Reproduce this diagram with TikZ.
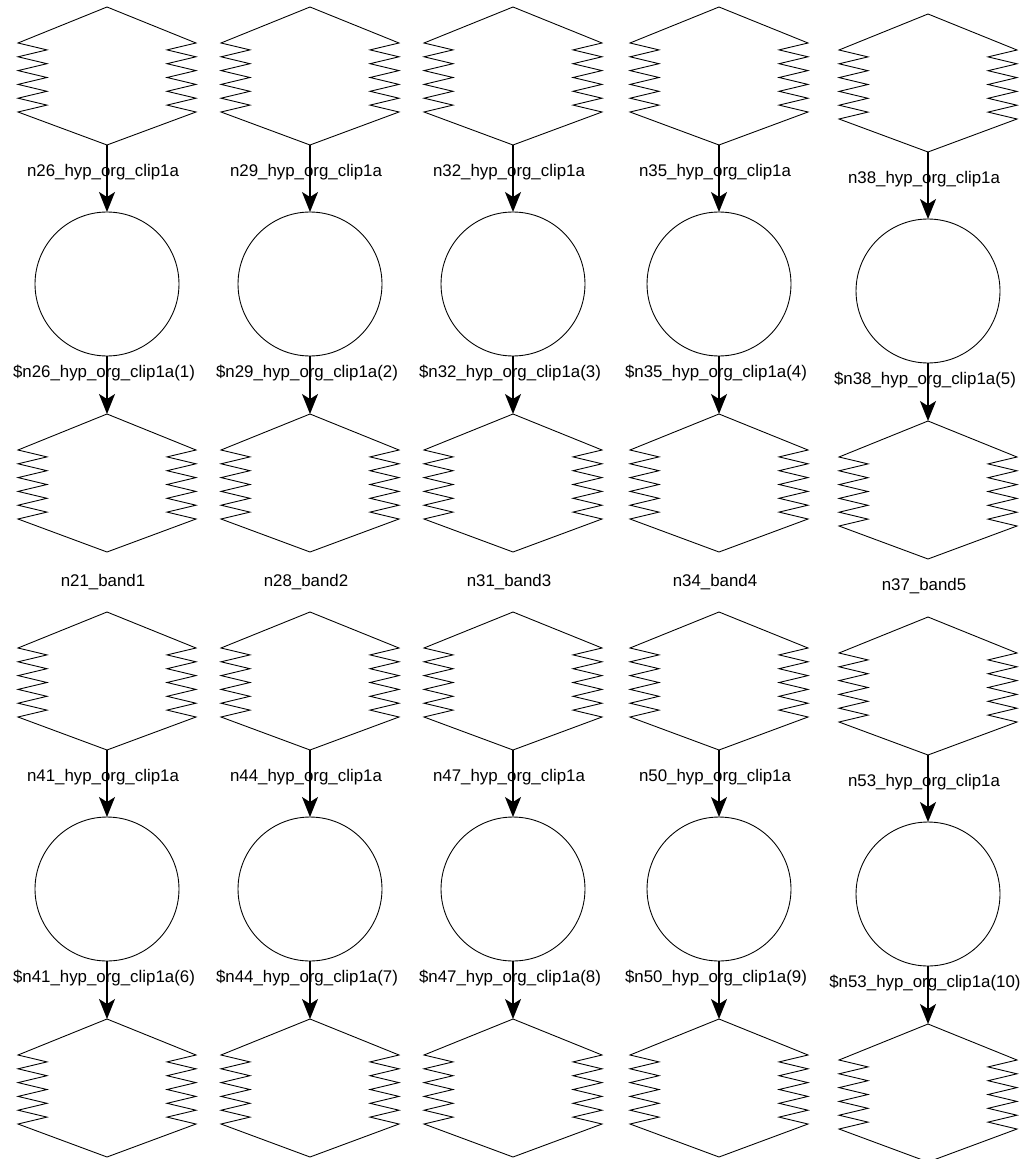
\documentclass[tikz,border=0pt]{standalone}
\usepackage{fontspec}
\setmainfont{Liberation Sans}
\usepackage{tikz}
\usetikzlibrary{arrows.meta}

\tikzset{
  hexspace/.style={rectangle,minimum width=3.56cm,minimum height=2.76cm,inner sep=0pt,outer sep=0pt},
  hexline/.style={line width=0.5pt},
  roundbox/.style={circle,draw,line width=0.5pt,minimum size=2.88cm,inner sep=0pt,outer sep=0pt},
  flow/.style={line width=0.9pt,-{Stealth[length=0.4cm,width=0.32cm,inset=0.1cm]}},
  lbl/.style={font=\fontsize{9.6}{11}\selectfont,inner sep=1pt}
}

% outline of the zigzag hexagon, in pixel units round its centre
\newcommand{\hexpath}{(0,-69) -- (89,-33)
  \foreach \k in {0,...,4} { -- (60,{-26.1+13.8*\k}) -- (89,{-19.2+13.8*\k}) }
  -- (0,69) -- (-89,36)
  \foreach \k in {0,...,4} { -- (-60,{29.1-13.8*\k}) -- (-89,{22.2-13.8*\k}) }
  -- cycle}

% one column: hexagon -> circle -> hexagon
\newcommand{\bandchain}[5]{%
  \node[hexspace] (top#1) at (#2,#3) {};
  \draw[hexline,shift={(top#1.center)}] \hexpath;
  \node[roundbox] (mid#1) at (#2,#3+208) {};
  \node[hexspace] (bot#1) at (#2,#3+407) {};
  \draw[hexline,shift={(bot#1.center)}] \hexpath;
  \draw[flow] (top#1) -- (mid#1) node[lbl,pos=0.4,xshift=-0.08cm] {#4};
  \draw[flow] (mid#1) -- (bot#1) node[lbl,pos=0.29,xshift=-0.06cm] {#5};
}

\begin{document}
\begin{tikzpicture}[x=0.02cm,y=-0.02cm]
  \useasboundingbox (0,0) rectangle (1031,1159);

  % first row
  \bandchain{1}{107}{76}{n26\_hyp\_org\_clip1a}{\$n26\_hyp\_org\_clip1a(1)}
  \bandchain{2}{310}{76}{n29\_hyp\_org\_clip1a}{\$n29\_hyp\_org\_clip1a(2)}
  \bandchain{3}{513}{76}{n32\_hyp\_org\_clip1a}{\$n32\_hyp\_org\_clip1a(3)}
  \bandchain{4}{719}{76}{n35\_hyp\_org\_clip1a}{\$n35\_hyp\_org\_clip1a(4)}
  \bandchain{5}{928}{83}{n38\_hyp\_org\_clip1a}{\$n38\_hyp\_org\_clip1a(5)}

  \node[lbl] (band1) at (103,582) {n21\_band1};
  \node[lbl] (band2) at (306,582) {n28\_band2};
  \node[lbl] (band3) at (509,582) {n31\_band3};
  \node[lbl] (band4) at (715,582) {n34\_band4};
  \node[lbl] (band5) at (924,586) {n37\_band5};

  % second row
  \bandchain{6}{107}{681}{n41\_hyp\_org\_clip1a}{\$n41\_hyp\_org\_clip1a(6)}
  \bandchain{7}{310}{681}{n44\_hyp\_org\_clip1a}{\$n44\_hyp\_org\_clip1a(7)}
  \bandchain{8}{513}{681}{n47\_hyp\_org\_clip1a}{\$n47\_hyp\_org\_clip1a(8)}
  \bandchain{9}{719}{681}{n50\_hyp\_org\_clip1a}{\$n50\_hyp\_org\_clip1a(9)}
  \bandchain{10}{928}{686}{n53\_hyp\_org\_clip1a}{\$n53\_hyp\_org\_clip1a(10)}
\end{tikzpicture}
\end{document}
